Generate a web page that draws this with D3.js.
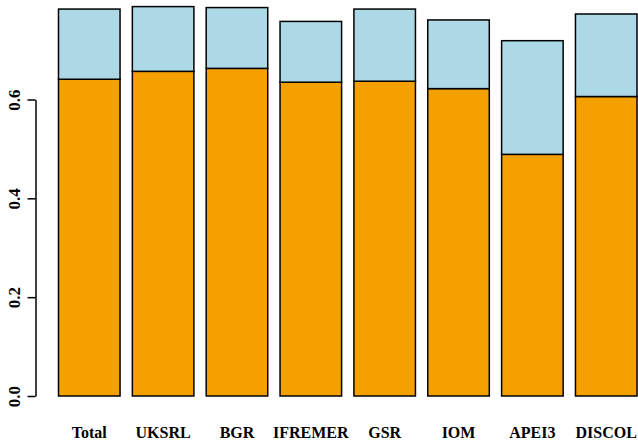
<!DOCTYPE html>
<html>
<head>
<meta charset="utf-8">
<script src="https://cdn.jsdelivr.net/npm/d3@7"></script>
<style>
  body { margin: 0; background: #fff; }
  svg { display: block; }
  text { font-family: "Liberation Serif", "Times New Roman", serif; font-weight: bold; }
</style>
</head>
<body>
<div id="chart"></div>
<script>
// data
const groups = ['Total', 'UKSRL', 'BGR', 'IFREMER', 'GSR', 'IOM', 'APEI3', 'DISCOL'];
const lower = [0.641, 0.657, 0.663, 0.635, 0.637, 0.622, 0.489, 0.606];   // orange part
const upper = [0.142, 0.131, 0.123, 0.123, 0.146, 0.139, 0.230, 0.167];   // light blue part
const yTicks = [0, 0.2, 0.4, 0.6];

const W = 638, H = 443;
const colors = ['#F4A000', '#ADD8E6'];

const svg = d3.select('#chart').append('svg')
    .attr('width', W).attr('height', H);

const x = d3.scaleBand()
    .domain(groups)
    .range([58.5, 637])
    .paddingInner(0.1667)
    .paddingOuter(0);

const y = d3.scaleLinear()
    .domain([0, 0.6])
    .range([396, 99.5]);

// stacked rows
const rows = groups.map((g, i) => ({ group: g, lower: lower[i], upper: upper[i] }));
const stacked = d3.stack().keys(['lower', 'upper'])(rows);

svg.append('g').selectAll('g')
    .data(stacked)
    .join('g')
    .attr('fill', (d, i) => colors[i])
    .selectAll('rect')
    .data(d => d)
    .join('rect')
    .attr('x', d => x(d.data.group))
    .attr('y', d => y(d[1]))
    .attr('width', x.bandwidth())
    .attr('height', d => y(d[0]) - y(d[1]))
    .attr('stroke', '#000')
    .attr('stroke-width', 1.5);

// y axis, R style
const yAxis = svg.append('g')
    .attr('transform', 'translate(35.5,0)')
    .call(d3.axisLeft(y).tickValues(yTicks).tickFormat(d3.format('.1f')).tickSize(8).tickSizeOuter(0));
yAxis.select('.domain').attr('stroke', '#000').attr('stroke-width', 1.5);
yAxis.selectAll('.tick line').attr('stroke', '#000').attr('stroke-width', 1.5);
yAxis.selectAll('.tick text')
    .attr('x', null).attr('dy', null)
    .attr('transform', 'translate(-15.5,0) rotate(-90)')
    .attr('text-anchor', 'middle')
    .attr('font-size', 17)
    .attr('font-family', '"Liberation Serif", serif')
    .attr('font-weight', 'bold')
    .attr('fill', '#000');

// category labels
svg.append('g').selectAll('text')
    .data(groups)
    .join('text')
    .attr('x', d => x(d) + x.bandwidth() / 2)
    .attr('y', 437.5)
    .attr('text-anchor', 'middle')
    .attr('font-size', 16)
    .attr('fill', '#000')
    .text(d => d);
</script>
</body>
</html>
